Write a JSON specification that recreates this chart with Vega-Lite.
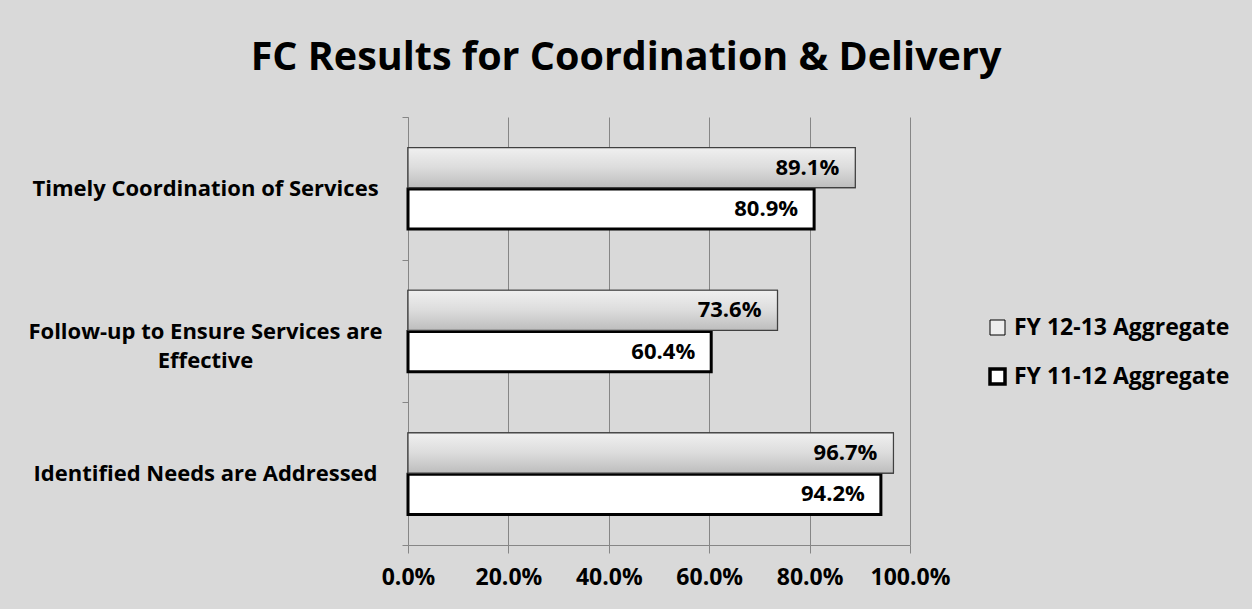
{
  "$schema": "https://vega.github.io/schema/vega-lite/v6.json",
  "width": 502,
  "height": 428,
  "autosize": {"type": "none"},
  "padding": {"left": 408, "top": 117, "right": 342, "bottom": 64},
  "background": "#d9d9d9",
  "title": {
    "text": "FC Results for Coordination & Delivery",
    "font": "Open Sans",
    "fontSize": 39.5,
    "fontWeight": "bold",
    "color": "#000000",
    "anchor": "middle",
    "dx": -33,
    "offset": 28
  },
  "data": {
    "values": [
      {"category": "Timely Coordination of Services", "series": "FY 12-13 Aggregate", "value": 0.891},
      {"category": "Timely Coordination of Services", "series": "FY 11-12 Aggregate", "value": 0.809},
      {"category": "Follow-up to Ensure Services are Effective", "series": "FY 12-13 Aggregate", "value": 0.736},
      {"category": "Follow-up to Ensure Services are Effective", "series": "FY 11-12 Aggregate", "value": 0.604},
      {"category": "Identified Needs are Addressed", "series": "FY 12-13 Aggregate", "value": 0.967},
      {"category": "Identified Needs are Addressed", "series": "FY 11-12 Aggregate", "value": 0.942}
    ]
  },
  "encoding": {
    "y": {
      "field": "category",
      "type": "nominal",
      "sort": ["Timely Coordination of Services", "Follow-up to Ensure Services are Effective", "Identified Needs are Addressed"],
      "scale": {"paddingInner": 0, "paddingOuter": 0},
      "axis": {
        "title": null,
        "tickBand": "extent",
        "labelFont": "Open Sans",
        "labelFontSize": 22,
        "labelFontWeight": "bold",
        "labelColor": "#000000",
        "labelAlign": "center",
        "labelPadding": 197,
        "labelLimit": 420,
        "labelLineHeight": 29,
        "labelExpr": "datum.value == 'Follow-up to Ensure Services are Effective' ? ['Follow-up to Ensure Services are', 'Effective'] : datum.value",
        "domainColor": "#868686",
        "tickColor": "#868686",
        "tickSize": 6,
        "grid": false
      }
    },
    "yOffset": {
      "field": "series",
      "type": "nominal",
      "sort": ["FY 12-13 Aggregate", "FY 11-12 Aggregate"],
      "scale": {"paddingInner": 0.03, "paddingOuter": 0.74}
    },
    "x": {
      "field": "value",
      "type": "quantitative",
      "scale": {"domain": [0, 1], "nice": false},
      "axis": {
        "title": null,
        "format": ".1%",
        "values": [0, 0.2, 0.4, 0.6, 0.8, 1],
        "labelOverlap": false,
        "labelFlush": false,
        "labelFont": "Open Sans",
        "labelFontSize": 23,
        "labelFontWeight": "bold",
        "labelColor": "#000000",
        "labelPadding": 13,
        "domainColor": "#868686",
        "tickColor": "#868686",
        "tickSize": 8,
        "grid": true,
        "gridColor": "#868686",
        "gridOpacity": 1
      }
    }
  },
  "layer": [
    {
      "mark": {"type": "bar"},
      "encoding": {
        "fill": {
          "field": "series",
          "type": "nominal",
          "sort": ["FY 12-13 Aggregate", "FY 11-12 Aggregate"],
          "scale": {"domain": ["FY 12-13 Aggregate", "FY 11-12 Aggregate"], "range": ["#eeeeee", "#ffffff"]},
          "legend": {
            "title": null,
            "orient": "none",
            "legendX": 578,
            "legendY": 199,
            "symbolType": "square",
            "symbolSize": 225,
            "symbolStrokeColor": "#000000",
            "labelFont": "Open Sans",
            "labelFontSize": 23,
            "labelFontWeight": "bold",
            "labelColor": "#000000",
            "labelLimit": 320,
            "labelOffset": 5,
            "rowPadding": 22,
            "encode": {
              "symbols": {
                "update": {
                  "stroke": {"value": "#000000"},
                  "strokeWidth": {"signal": "datum.value == 'FY 11-12 Aggregate' ? 3.5 : 1"}
                }
              }
            }
          }
        },
        "stroke": {
          "condition": {"test": "datum.series == 'FY 11-12 Aggregate'", "value": "#000000"},
          "value": "#404040"
        },
        "strokeWidth": {
          "condition": {"test": "datum.series == 'FY 11-12 Aggregate'", "value": 3},
          "value": 1.2
        }
      }
    },
    {
      "transform": [{"filter": "datum.series == 'FY 12-13 Aggregate'"}],
      "mark": {
        "type": "bar",
        "stroke": "#404040",
        "strokeWidth": 1.2,
        "fill": {
          "gradient": "linear",
          "x1": 0, "y1": 0, "x2": 0, "y2": 1,
          "stops": [
            {"offset": 0, "color": "#f0f0f0"},
            {"offset": 0.5, "color": "#dcdcdc"},
            {"offset": 1, "color": "#bdbdbd"}
          ]
        }
      }
    },
    {
      "mark": {
        "type": "text",
        "align": "right",
        "baseline": "middle",
        "dx": -16,
        "font": "Open Sans",
        "fontSize": 22,
        "fontWeight": "bold",
        "color": "#000000"
      },
      "encoding": {
        "text": {"field": "value", "type": "quantitative", "format": ".1%"}
      }
    }
  ],
  "config": {
    "view": {"stroke": null}
  }
}
